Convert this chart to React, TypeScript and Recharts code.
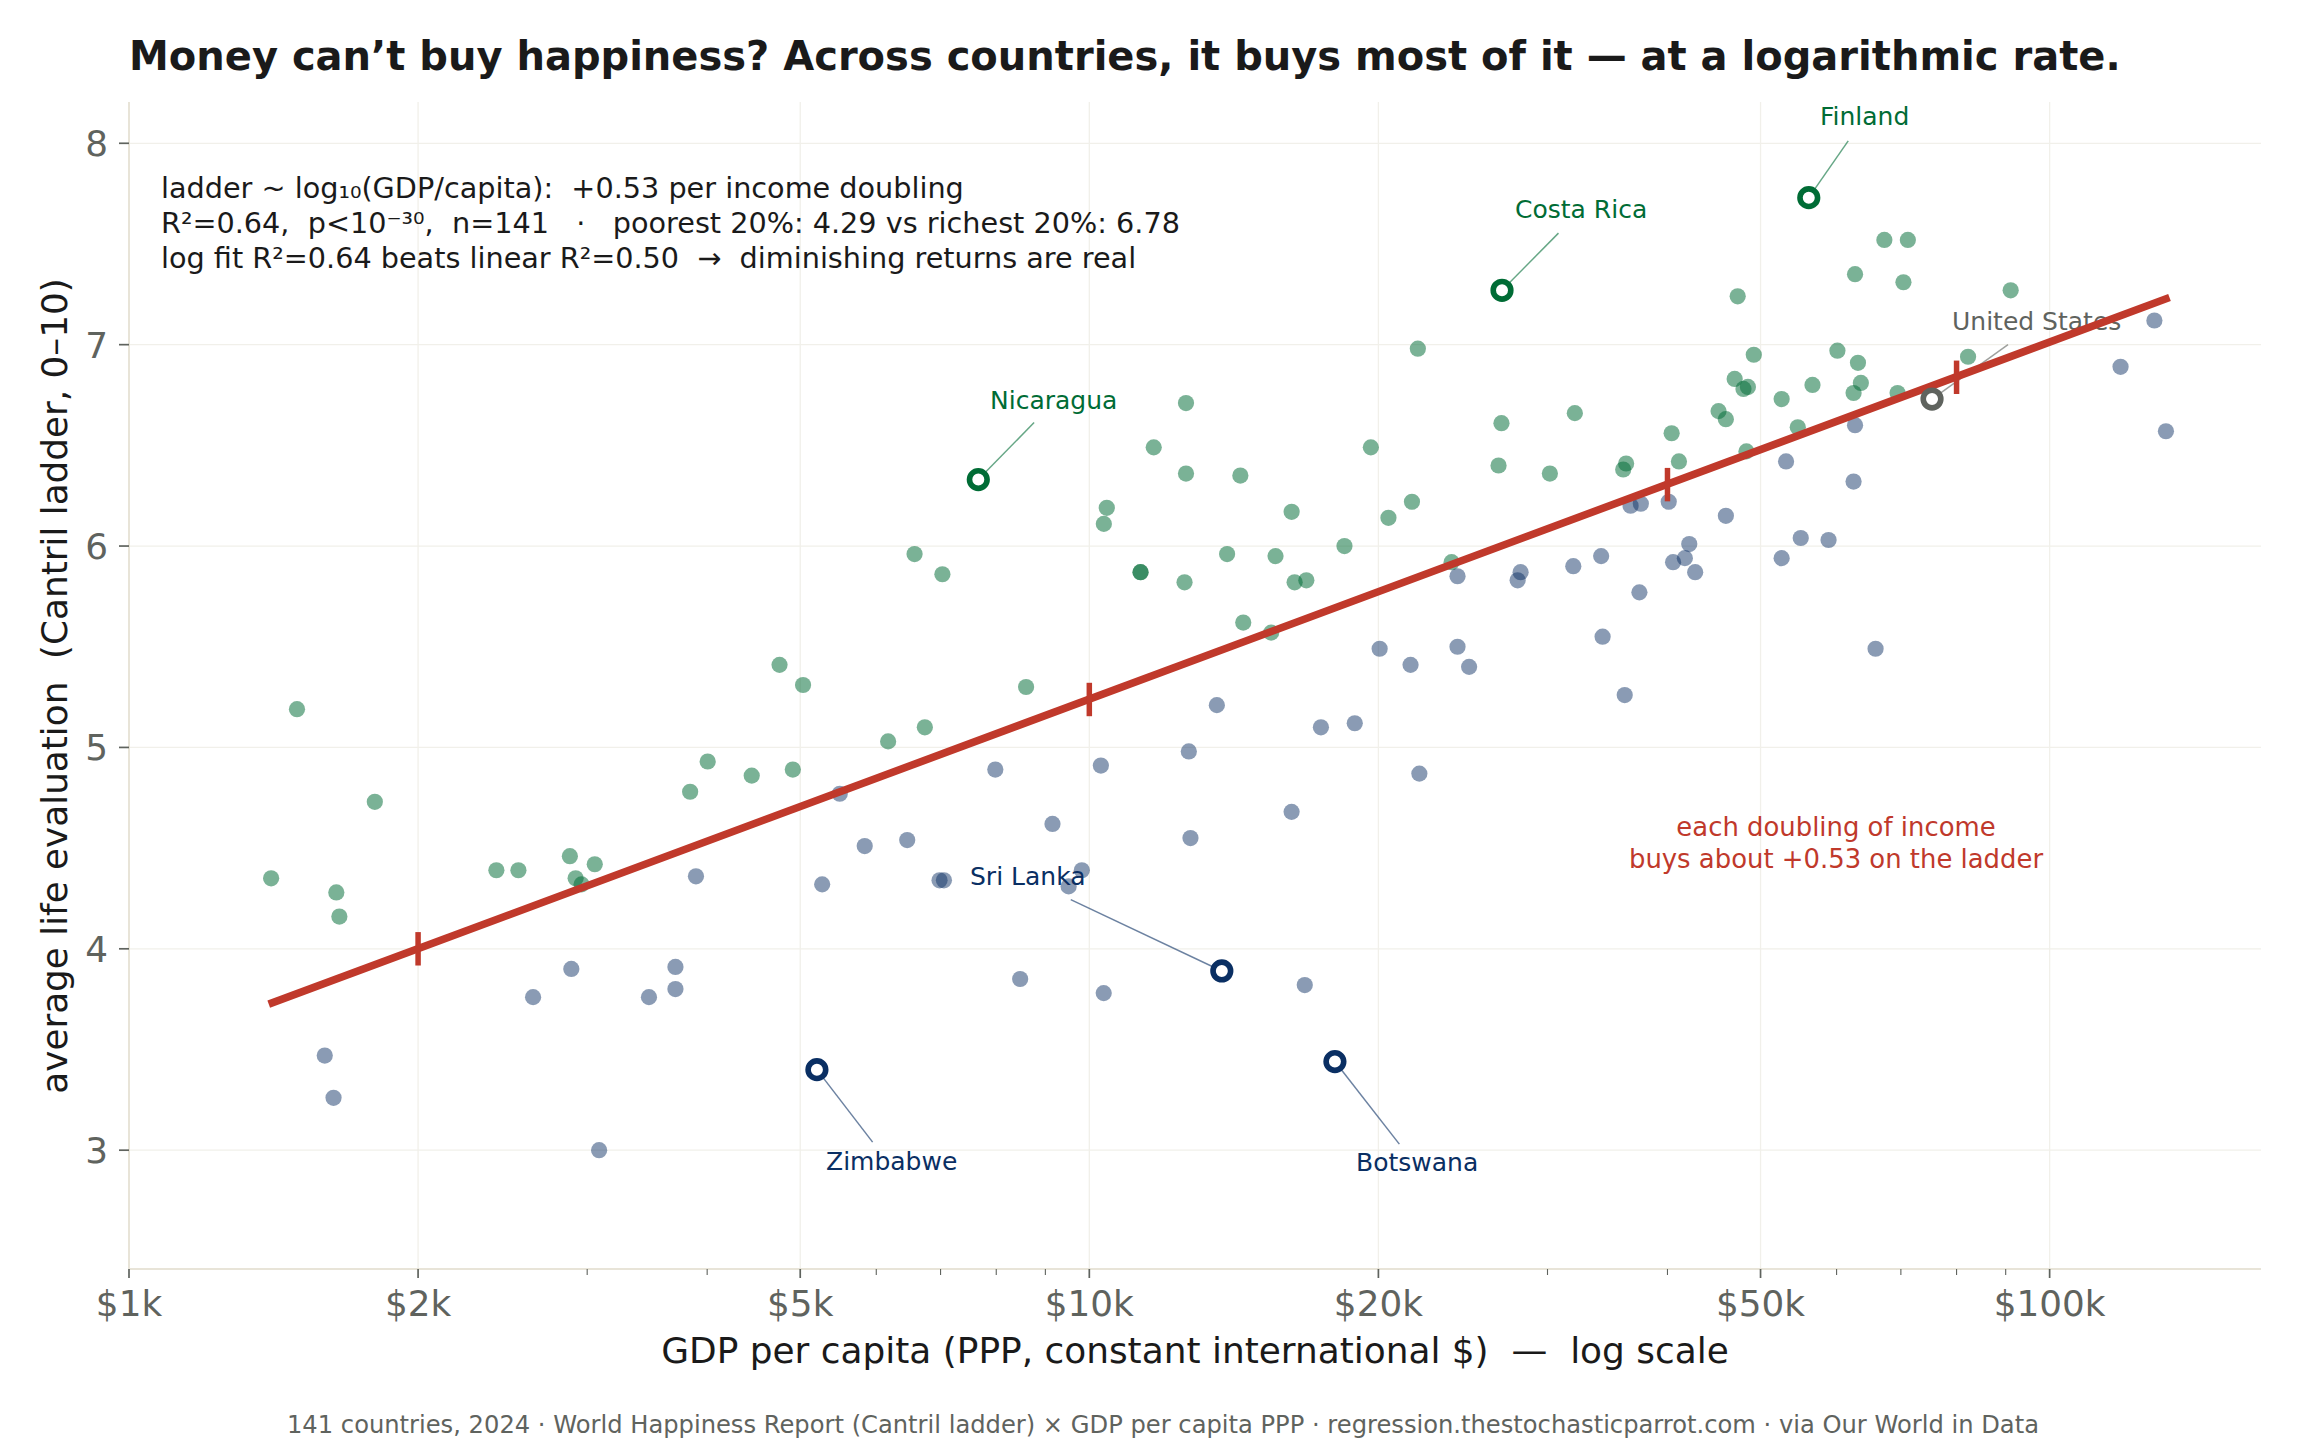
import React from "react";
import { ScatterChart, Scatter, XAxis, YAxis, CartesianGrid, ReferenceLine } from "recharts";

const titleText = "Money can’t buy happiness? Across countries, it buys most of it — at a logarithmic rate.";
const statLines = [
  "ladder ~ log₁₀(GDP/capita):  +0.53 per income doubling",
  "R²=0.64,  p<10⁻³⁰,  n=141   ·   poorest 20%: 4.29 vs richest 20%: 6.78",
  "log fit R²=0.64 beats linear R²=0.50  →  diminishing returns are real",
];
const xTickValues = [1000, 2000, 3000, 4000, 5000, 6000, 7000, 8000, 9000, 10000, 20000, 30000, 40000, 50000, 60000, 70000, 80000, 90000, 100000];
const xTickLabels: Record<number, string> = { 1000: "$1k", 2000: "$2k", 5000: "$5k", 10000: "$10k", 20000: "$20k", 50000: "$50k", 100000: "$100k" };
const xGridValues = [1000, 2000, 5000, 10000, 20000, 50000, 100000];
const yTickValues = [3, 4, 5, 6, 7, 8];

const aboveGdp = [1406,1496,1644,1656,1803,2413,2544,2878,2918,2960,3055,3840,4005,4451,4912,4758,5034,6173,6741,6577,7031,8593,10428,10354,11307,11307,11670,12609,12609,12565,13915,14364,14464,15465,15628,16244,16360,16827,18437,19641,20488,21676,21984,23838,26677,26865,30172,32032,35972,36224,40401,41115,45210,46008,46994,47996,48507,47334,48336,49198,52595,54669,56633,60120,62495,63597,63156,62715,67284,71182,70431,69449,82234,91082];
const aboveLadder = [4.35,5.19,4.28,4.16,4.73,4.39,4.39,4.46,4.35,4.32,4.42,4.78,4.93,4.86,4.89,5.41,5.31,5.03,5.10,5.96,5.86,5.30,6.19,6.11,5.87,5.87,6.49,6.71,6.36,5.82,5.96,6.35,5.62,5.57,5.95,6.17,5.82,5.83,6.00,6.49,6.14,6.22,6.98,5.92,6.40,6.61,6.36,6.66,6.38,6.41,6.56,6.42,6.67,6.63,6.83,6.78,6.79,7.24,6.47,6.95,6.73,6.59,6.80,6.97,6.76,6.81,6.91,7.35,7.52,7.52,7.31,6.76,6.94,7.27];
const belowGdp = [1599,1633,2635,2888,3087,3479,3707,3707,3894,5270,5497,5836,6462,6983,7057,7982,8472,9155,9516,9822,10281,10351,12695,12745,13577,16242,16763,17425,18898,20060,21603,22064,24178,24178,24860,27926,28126,31914,34118,34238,36102,36613,37525,37395,40120,40541,41703,42144,42745,46012,52595,53156,55060,58857,62495,62715,65882,118537,128557,132164];
const belowLadder = [3.47,3.26,3.76,3.90,3.00,3.76,3.91,3.80,4.36,4.32,4.77,4.51,4.54,4.34,4.34,4.89,3.85,4.62,4.31,4.39,4.91,3.78,4.98,4.55,5.21,4.68,3.82,5.10,5.12,5.49,5.41,4.87,5.50,5.85,5.40,5.83,5.87,5.90,5.95,5.55,5.26,6.20,6.21,5.77,6.22,5.92,5.94,6.01,5.87,6.15,5.94,6.42,6.04,6.03,6.32,6.60,5.49,6.89,7.12,6.57];
const fitGdp = [1398, 133300];
const fitLadder = [3.725, 7.234];
const doublingGdp = [2000, 10000, 40000, 80000];
const doublingLadder = [4.0, 5.238, 6.305, 6.838];
const callouts = [
  { name: "Nicaragua", gdp: 7663, ladder: 6.33, color: "#006c35", endGdp: 8760, endLadder: 6.613 },
  { name: "Costa Rica", gdp: 26900, ladder: 7.27, color: "#006c35", endGdp: 30800, endLadder: 7.554 },
  { name: "Finland", gdp: 56130, ladder: 7.73, color: "#006c35", endGdp: 61700, endLadder: 8.012 },
  { name: "United States", gdp: 75430, ladder: 6.73, color: "#5f635e", endGdp: 90500, endLadder: 7.0 },
  { name: "Sri Lanka", gdp: 13740, ladder: 3.89, color: "#0a2f63", endGdp: 9565, endLadder: 4.244 },
  { name: "Zimbabwe", gdp: 5204, ladder: 3.4, color: "#0a2f63", endGdp: 5948, endLadder: 3.04 },
  { name: "Botswana", gdp: 18020, ladder: 3.44, color: "#0a2f63", endGdp: 21030, endLadder: 3.03 },
];
const labelPlacements = [
  { name: "Nicaragua", x: 990, y: 409 },
  { name: "Costa Rica", x: 1515, y: 218 },
  { name: "Finland", x: 1820, y: 125 },
  { name: "United States", x: 1952, y: 330 },
  { name: "Sri Lanka", x: 970, y: 885 },
  { name: "Zimbabwe", x: 826, y: 1170 },
  { name: "Botswana", x: 1356, y: 1171 },
];

const toPoints = (xs: number[], ys: number[]) => xs.map((x, i) => ({ x, y: ys[i] }));
const GREEN = "#006c35";
const NAVY = "#0a2f63";
const RED = "#c0392b";
const FONT = "DejaVu Sans";
const GREY = "#5f635e";

const Dot = (color: string, alpha: number) => (p: any) => (
  <circle cx={p.cx} cy={p.cy} r={8.1} fill={color} fillOpacity={alpha} stroke="none" />
);
const Ring = (p: any) => (
  <circle cx={p.cx} cy={p.cy} r={8.8} fill="#ffffff" stroke={p.payload.color} strokeWidth={5.6} />
);
const XTick = (p: any) => {
  const v = p.payload.value;
  const label = xTickLabels[v];
  return (
    <g>
      <line x1={p.x} x2={p.x} y1={1269} y2={label ? 1278 : 1275} stroke={GREY} strokeWidth={label ? 1.7 : 1.1} />
      {label ? (
        <text x={p.x} y={1316} textAnchor="middle" fontFamily={FONT} fontSize={35.8} fill={GREY}>{label}</text>
      ) : null}
    </g>
  );
};
const YTick = (p: any) => (
  <g>
    <line x1={129} x2={119} y1={p.y} y2={p.y} stroke={GREY} strokeWidth={1.7} />
    <text x={108} y={p.y + 13} textAnchor="end" fontFamily={FONT} fontSize={35.8} fill={GREY}>{p.payload.value}</text>
  </g>
);

export default function App() {
  return (
    <div style={{ position: "absolute", left: 0, top: 0, width: 2300, height: 1440, background: "#fff" }}>
      <ScatterChart width={2300} height={1440} margin={{ top: 102, right: 39, bottom: 111, left: 69 }}>
        <CartesianGrid stroke="#f1f0ea" strokeWidth={1.3} horizontalValues={yTickValues} verticalValues={xGridValues} />
        <XAxis type="number" dataKey="x" scale="log" domain={[1000, 166000]} allowDataOverflow ticks={xTickValues} interval={0} height={60} axisLine={{ stroke: "#e8e4d8", strokeWidth: 2.2 }} tickLine={false} tick={XTick} />
        <YAxis type="number" dataKey="y" domain={[2.41, 8.205]} allowDataOverflow ticks={yTickValues} interval={0} width={60} axisLine={{ stroke: "#e8e4d8", strokeWidth: 2 }} tickLine={false} tick={YTick} />
        {callouts.map((c) => (
          <ReferenceLine key={c.name} segment={[{ x: c.gdp, y: c.ladder }, { x: c.endGdp, y: c.endLadder }]} stroke={c.color} strokeOpacity={0.6} strokeWidth={1.5} />
        ))}
        <Scatter data={toPoints(aboveGdp, aboveLadder)} shape={Dot(GREEN, 0.52)} isAnimationActive={false} />
        <Scatter data={toPoints(belowGdp, belowLadder)} shape={Dot(NAVY, 0.48)} isAnimationActive={false} />
        {labelPlacements.map((l) => {
          const c = callouts.find((k) => k.name === l.name)!;
          return (
            <text key={l.name} x={l.x} y={l.y} fontFamily={FONT} fontSize={25} fill={c.color}>{l.name}</text>
          );
        })}
        <Scatter data={toPoints(fitGdp, fitLadder)} line={{ stroke: RED, strokeWidth: 7.6 }} shape={() => null} isAnimationActive={false} />
        {doublingGdp.map((g, i) => (
          <Scatter key={g} data={[{ x: g, y: doublingLadder[i] - 0.083 }, { x: g, y: doublingLadder[i] + 0.083 }]} line={{ stroke: RED, strokeWidth: 5.5 }} shape={() => null} isAnimationActive={false} />
        ))}
        <Scatter data={callouts.map((c) => ({ x: c.gdp, y: c.ladder, color: c.color }))} shape={Ring} isAnimationActive={false} />
        <text x={129} y={69.5} fontFamily={FONT} fontWeight={700} fontSize={40} fill="#1a1a1a">{titleText}</text>
        {statLines.map((t, i) => (
          <text key={i} x={161} y={197.5 + i * 35} fontFamily={FONT} fontSize={28.7} fill="#1a1a1a" xmlSpace="preserve" style={{ whiteSpace: "pre" }}>{t}</text>
        ))}
        <text x={1836} y={836} textAnchor="middle" fontFamily={FONT} fontSize={25.9} fill={RED}>each doubling of income</text>
        <text x={1836} y={868} textAnchor="middle" fontFamily={FONT} fontSize={25.9} fill={RED}>buys about +0.53 on the ladder</text>
        <text x={1195} y={1363} textAnchor="middle" fontFamily={FONT} fontSize={35.9} fill="#1a1a1a" style={{ whiteSpace: "pre" }}>GDP per capita (PPP, constant international $)  —  log scale</text>
        <text x={1163} y={1433} textAnchor="middle" fontFamily={FONT} fontSize={24.2} fill={GREY}>141 countries, 2024 · World Happiness Report (Cantril ladder) × GDP per capita PPP · regression.thestochasticparrot.com · via Our World in Data</text>
        <text transform="translate(67,686) rotate(-90)" textAnchor="middle" fontFamily={FONT} fontSize={35.8} fill="#1a1a1a" style={{ whiteSpace: "pre" }}>average life evaluation  (Cantril ladder, 0–10)</text>
      </ScatterChart>
    </div>
  );
}
